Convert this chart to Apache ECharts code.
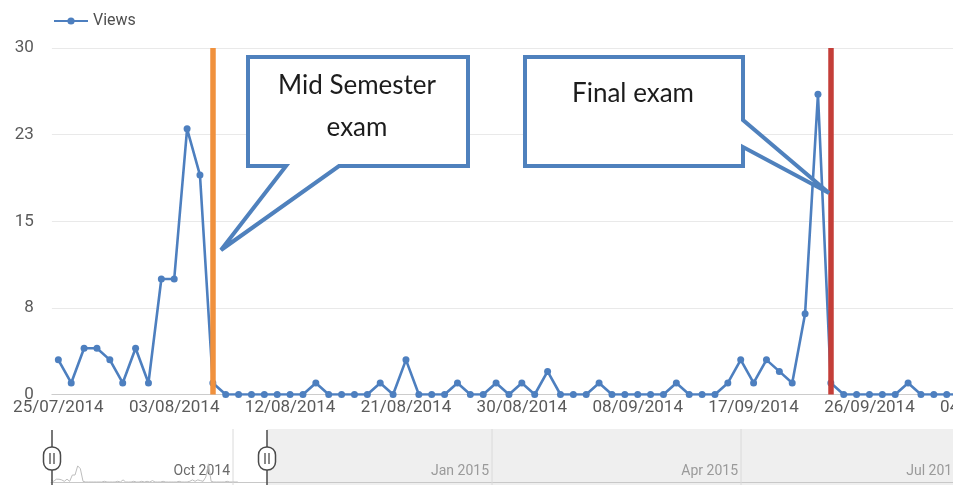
<!DOCTYPE html>
<html>
<head>
<meta charset="utf-8">
<script src="https://cdn.jsdelivr.net/npm/echarts@6/dist/echarts.min.js"></script>
<style>
  html, body { margin: 0; padding: 0; background: #ffffff; }
  #chart { width: 953px; height: 485px; }
</style>
</head>
<body>
<div id="chart"></div>
<script>
// Daily page views, one value per day starting at startDate
const startDate = [2014, 6, 25];
const dayCount = 73;
const views = [
  3, 1, 4, 4, 3, 1, 4, 1, 10, 10, 23, 19, 1, 0, 0, 0, 0, 0, 0, 0,
  1, 0, 0, 0, 0, 1, 0, 3, 0, 0, 0, 1, 0, 0, 1, 0, 1, 0, 2, 0,
  0, 0, 1, 0, 0, 0, 0, 0, 1, 0, 0, 0, 1, 3, 1, 3, 2, 1, 7, 26,
  1, 0, 0, 0, 0, 0, 1, 0, 0, 0, 0, null, null
];
// Date labels printed under the axis, one every tickEvery days
const tickLabels = [
  '25/07/2014', '03/08/2014', '12/08/2014', '21/08/2014', '30/08/2014',
  '08/09/2014', '17/09/2014', '26/09/2014', '04/10/2014'
];
const tickEvery = 9;
const yMax = 30;
const yStep = 7.5;
// Exam days (index into the day list)
const midSemesterDay = 12;
const finalExamDay = 60;
const midSemesterText = ['Mid Semester', 'exam'];
const finalExamText = ['Final exam'];
// Month labels of the overview strip
const navMonths = ['Oct 2014', 'Jan 2015', 'Apr 2015', 'Jul 2015'];
const navDays = 338;

const pad = n => (n < 10 ? '0' : '') + n;
const days = [];
for (let i = 0; i < dayCount; i++) {
  const d = new Date(startDate[0], startDate[1], startDate[2] + i);
  days.push(pad(d.getDate()) + '/' + pad(d.getMonth() + 1) + '/' + d.getFullYear());
}

const BLUE = '#4d7fbf';
const CALLOUT = '#4f81bd';
const AXIS_TEXT = '#5a5a5a';
const DAY_WIDTH = 12.875;

const chart = echarts.init(document.getElementById('chart'), null, { renderer: 'canvas' });

// Callout balloon: rectangle with a pointer ending at the tip
function callout(points, lines, cx, cy, lineGap) {
  const els = [{
    type: 'polygon',
    z: 100,
    shape: { points: points },
    style: { fill: '#ffffff', stroke: CALLOUT, lineWidth: 4, lineJoin: 'miter', miterLimit: 2.5 }
  }];
  lines.forEach((t, k) => {
    els.push({
      type: 'text',
      z: 101,
      style: {
        text: t, x: cx, y: cy + k * lineGap,
        align: 'center', verticalAlign: 'middle',
        textAlign: 'center', textVerticalAlign: 'middle',
        fontFamily: 'Lato', fontSize: 26, fill: '#1c1c1c'
      }
    });
  });
  return els;
}

// Range handle of the overview strip
function handle(x) {
  return [
    { type: 'line', z: 50, shape: { x1: x, y1: 430, x2: x, y2: 485 }, style: { stroke: '#4a4a4a', lineWidth: 1.5 } },
    { type: 'rect', z: 51, shape: { x: x - 8.5, y: 447, width: 17, height: 23, r: 8 }, style: { fill: '#ffffff', stroke: '#4a4a4a', lineWidth: 1.5 } },
    { type: 'line', z: 52, shape: { x1: x - 2, y1: 453, x2: x - 2, y2: 464 }, style: { stroke: '#4a4a4a', lineWidth: 1.3 } },
    { type: 'line', z: 52, shape: { x1: x + 2, y1: 453, x2: x + 2, y2: 464 }, style: { stroke: '#4a4a4a', lineWidth: 1.3 } }
  ];
}

const navSeparators = [233, 492, 741, 963];
const navGraphics = [
  { type: 'rect', z: 0, shape: { x: 267, y: 429, width: 700, height: 56 }, style: { fill: '#efefef' } }
];
navSeparators.forEach((x, k) => {
  navGraphics.push({ type: 'line', z: 1, shape: { x1: x, y1: 429, x2: x, y2: 485 }, style: { stroke: '#dadada', lineWidth: 1 } });
  navGraphics.push({
    type: 'text', z: 2,
    style: {
      text: navMonths[k], x: x - 3, y: 471,
      align: 'right', verticalAlign: 'middle',
      textAlign: 'right', textVerticalAlign: 'middle',
      fontFamily: 'Roboto', fontSize: 14, fill: k === 0 ? '#6a6a6a' : '#9a9a9a'
    }
  });
});

const option = {
  animation: false,
  backgroundColor: '#ffffff',
  legend: {
    data: ['Views'],
    left: 48,
    top: 8,
    itemWidth: 34,
    itemHeight: 9,
    itemGap: 10,
    textStyle: { fontFamily: 'Roboto', fontSize: 16, color: '#4f4f4f' }
  },
  grid: [
    // the plot runs past the right edge of the canvas
    { left: 51.9, width: dayCount * DAY_WIDTH, top: 48, bottom: 90.5, outerBoundsMode: 'none', containLabel: false },
    { left: 51, right: 0, top: 461, bottom: 3, outerBoundsMode: 'none', containLabel: false }
  ],
  xAxis: [{
    type: 'category',
    gridIndex: 0,
    data: days,
    boundaryGap: true,
    axisLine: { show: true, lineStyle: { color: '#cccccc', width: 1 } },
    axisTick: { show: false },
    splitLine: { show: false },
    axisLabel: {
      interval: tickEvery - 1,
      margin: 5,
      fontFamily: 'Roboto',
      fontSize: 17,
      color: AXIS_TEXT,
      formatter: (value, index) => tickLabels[Math.round(index / tickEvery)]
    }
  }, {
    type: 'value',
    gridIndex: 1,
    min: 0,
    max: navDays,
    axisLine: { show: true, onZero: false, lineStyle: { color: '#c8c8c8', width: 1 } },
    axisTick: { show: false },
    axisLabel: { show: false },
    splitLine: { show: false }
  }],
  yAxis: [{
    type: 'value',
    gridIndex: 0,
    min: 0,
    max: yMax,
    interval: yStep,
    axisLine: { show: false },
    axisTick: { show: false },
    splitLine: { lineStyle: { color: '#e9e9e9', width: 1 } },
    axisLabel: {
      margin: 18,
      fontFamily: 'Roboto',
      fontSize: 17,
      color: AXIS_TEXT,
      formatter: v => String(Math.round(v))
    }
  }, {
    type: 'value',
    gridIndex: 1,
    min: 0,
    max: yMax,
    show: false
  }],
  series: [{
    name: 'Views',
    type: 'line',
    xAxisIndex: 0,
    yAxisIndex: 0,
    data: views,
    showAllSymbol: true,
    symbol: 'circle',
    symbolSize: 7,
    connectNulls: false,
    color: BLUE,
    lineStyle: { color: BLUE, width: 2.6 },
    itemStyle: { color: BLUE },
    z: 3
  }, {
    name: 'Exams',
    type: 'line',
    xAxisIndex: 0,
    yAxisIndex: 0,
    data: views.map(() => null),
    symbol: 'none',
    silent: true,
    markLine: {
      silent: true,
      symbol: ['none', 'none'],
      label: { show: false },
      z: 6,
      lineStyle: { type: 'solid', width: 5.5 },
      data: [
        { xAxis: days[midSemesterDay], lineStyle: { color: '#f0913d', type: 'solid', width: 5.5 } },
        { xAxis: days[finalExamDay], lineStyle: { color: '#c43e38', type: 'solid', width: 5.5 } }
      ]
    }
  }, {
    name: 'Overview',
    type: 'line',
    xAxisIndex: 1,
    yAxisIndex: 1,
    data: views.map((v, i) => [i, v]).filter(p => p[1] !== null),
    symbol: 'none',
    silent: true,
    lineStyle: { color: '#bdbdbd', width: 1 },
    z: 2
  }],
  graphic: {
    elements: [].concat(
      navGraphics,
      handle(52),
      handle(267),
      callout([[248, 57], [468, 57], [468, 166], [339, 166], [221, 250], [286, 166], [248, 166]],
        midSemesterText, 357, 86, 42),
      callout([[525, 57], [743, 57], [743, 120], [829, 193], [743, 147], [743, 166], [525, 166]],
        finalExamText, 633, 94, 42)
    )
  }
};

chart.setOption(option);
</script>
</body>
</html>
